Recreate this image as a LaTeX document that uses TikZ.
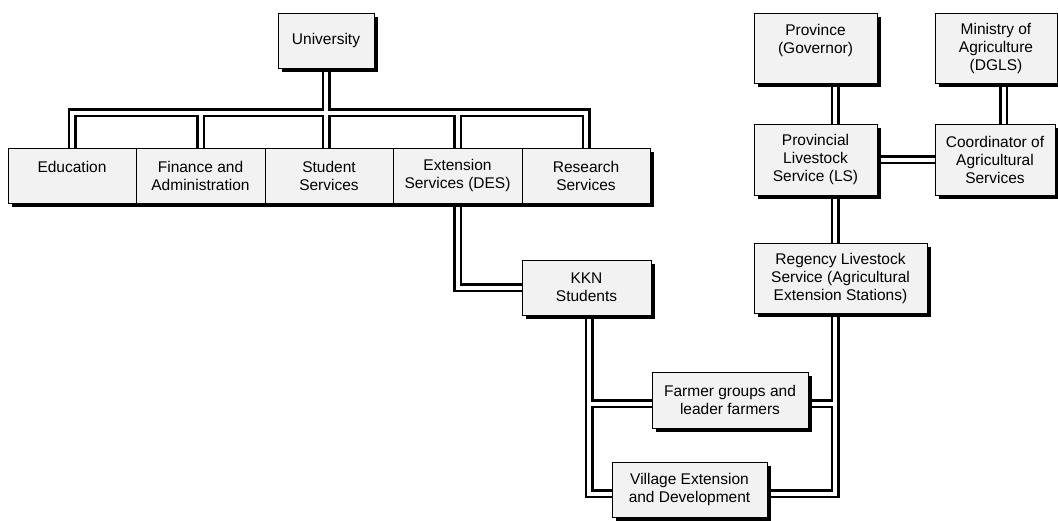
\documentclass[tikz,border=0pt]{standalone}
\usepackage{fontspec}
\setmainfont{Liberation Sans}
\usetikzlibrary{shadows,backgrounds,calc}
\newcommand\conpaths[1]{%
  \draw[#1] (uni.south) -- (uni.south |- stu.north);
  \draw[#1] (edu.north) |- (bus) -| (res.north);
  \draw[#1] (fin.north) -- (fin.north |- bus);
  \draw[#1] (ext.north) -- (ext.north |- bus);
  \draw[#1] (ext.south) |- (kkn.west);
  \draw[#1] (kkn.south -| kx) |- (vil.west |- vy);
  \draw[#1] (kx |- fy) -- (farm.west |- fy);
  \draw[#1] (prov.south -| lsx) -- (pls.north -| lsx);
  \draw[#1] (pls.south -| lsx) -- (reg.north -| lsx);
  \draw[#1] (min.south -| mx) -- (coord.north -| mx);
  \draw[#1] (pls.east) -- (coord.west);
  \draw[#1] (reg.south -| lsx) |- (vil.east |- vy);
  \draw[#1] (farm.east |- fy) -- (lsx |- fy);
}
\begin{document}
\begin{tikzpicture}[x=1pt,y=-1pt,
  box/.style={draw=black, line width=1pt, fill=black!5, align=center, inner sep=0pt,
    font=\fontsize{15.5}{18}\selectfont,
    drop shadow={shadow xshift=4pt, shadow yshift=-4pt, fill=black, opacity=1}},
  outerline/.style={line width=9pt, black, line join=miter},
  innerline/.style={line width=4pt, white, line join=miter}]
\useasboundingbox (0,0) rectangle (1058,520);
% university side
\node[box, minimum width=96pt, minimum height=55pt] (uni) at (326,40.5) {University};
\node[box, minimum width=128pt, minimum height=55pt] (edu) at (72,175.5) {Education\\\mbox{}};
\node[box, minimum width=129pt, minimum height=55pt] (fin) at (200.5,175.5) {Finance and\\Administration};
\node[box, minimum width=128pt, minimum height=55pt] (stu) at (329,175.5) {Student\\Services};
\node[box, minimum width=129pt, minimum height=55pt] (ext) at (457.5,175.5) {Extension\\Services (DES)};
\node[box, minimum width=128pt, minimum height=55pt] (res) at (586,175.5) {Research\\Services};
\node[box, minimum width=129pt, minimum height=55pt] (kkn) at (586.5,287.5) {KKN\\Students};
\node[box, minimum width=156pt, minimum height=56pt] (farm) at (730,400) {Farmer groups and\\leader farmers};
\node[box, minimum width=155pt, minimum height=55pt] (vil) at (689.5,489.5) {Village Extension\\and Development};
% government side
\node[box, minimum width=123pt, minimum height=70pt] (prov) at (815.5,48) {Province\\(Governor)\\\mbox{}};
\node[box, minimum width=122pt, minimum height=70pt] (min) at (996,48) {Ministry of\\Agriculture\\(DGLS)};
\node[box, minimum width=123pt, minimum height=71pt] (pls) at (815.5,159.5) {Provincial\\Livestock\\Service (LS)};
\node[box, minimum width=120pt, minimum height=71pt] (coord) at (995,159.5) {Coordinator of\\Agricultural\\Services};
\node[box, minimum width=173pt, minimum height=70pt] (reg) at (840.5,278) {Regency Livestock\\Service (Agricultural\\Extension Stations)};
% routing coordinates
\coordinate (bus) at (327,112.5);
\coordinate (kx) at (589,0);
\coordinate (lsx) at (835,0);
\coordinate (mx) at (1003.5,0);
\coordinate (fy) at (0,403.5);
\coordinate (vy) at (0,493.5);
\begin{scope}[on background layer]
  \conpaths{outerline}
  \conpaths{innerline}
\end{scope}
\end{tikzpicture}
\end{document}
